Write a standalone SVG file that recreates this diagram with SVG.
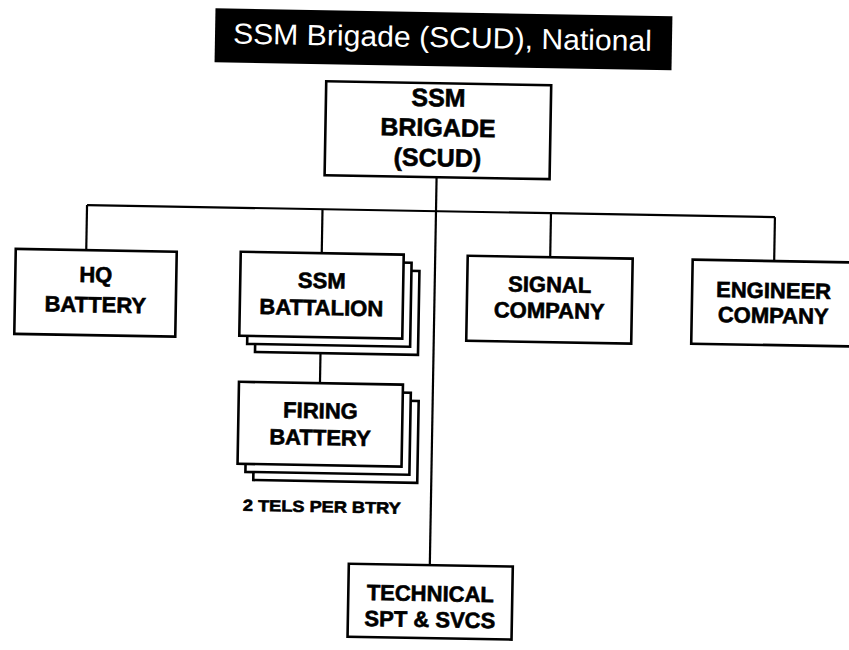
<svg xmlns="http://www.w3.org/2000/svg" width="849" height="650" viewBox="0 0 849 650">
<style>
.box{fill:#fff;stroke:#000;stroke-width:2.6}
.ln{fill:none;stroke:#000;stroke-width:2.2}
.t{font-family:"Liberation Sans",Arial,sans-serif;font-weight:bold;font-size:22px;fill:#000;stroke:#000;stroke-width:0.6;text-anchor:middle}
.tb{font-size:25px}
.title{font-family:"Liberation Sans",Arial,sans-serif;font-size:29px;fill:#fff;text-anchor:middle}
</style>
<rect x="0" y="0" width="849" height="650" fill="#fff"/>
<g transform="rotate(1 424 325)">
  <g id="title">
    <rect x="210" y="12" width="457" height="54" fill="#000"/>
    <text class="title" x="437.5" y="47" textLength="419" lengthAdjust="spacingAndGlyphs">SSM Brigade (SCUD), National</text>
  </g>
  <g id="connectors">
    <line class="ln" x1="434" y1="177" x2="434" y2="565"/>
    <line class="ln" x1="85" y1="211" x2="773" y2="211"/>
    <line class="ln" x1="85" y1="211" x2="85" y2="256"/>
    <line class="ln" x1="320.5" y1="211" x2="320.5" y2="255"/>
    <line class="ln" x1="549" y1="211" x2="549" y2="255"/>
    <line class="ln" x1="773" y1="211" x2="773" y2="255"/>
    <line class="ln" x1="321" y1="355" x2="321" y2="385"/>
  </g>
  <g id="brigade">
    <rect class="box" x="322" y="83" width="225" height="94"/>
    <text class="t tb" x="434.5" y="106">SSM</text>
    <text class="t tb" x="434.5" y="136">BRIGADE</text>
    <text class="t tb" x="434.5" y="166">(SCUD)</text>
  </g>
  <g id="hq-battery">
    <rect class="box" x="14.5" y="256" width="161" height="85"/>
    <text class="t" x="95" y="288">HQ</text>
    <text class="t" x="95" y="318">BATTERY</text>
  </g>
  <g id="ssm-battalion">
    <rect class="box" x="255.5" y="271" width="163" height="84"/>
    <rect class="box" x="247.5" y="263" width="163" height="84"/>
    <rect class="box" x="239.5" y="255" width="163" height="84"/>
    <text class="t" x="321" y="290">SSM</text>
    <text class="t" x="321" y="317">BATTALION</text>
  </g>
  <g id="firing-battery">
    <rect class="box" x="256" y="401" width="164" height="82"/>
    <rect class="box" x="248" y="393" width="164" height="82"/>
    <rect class="box" x="240" y="385" width="164" height="82"/>
    <text class="t" x="322" y="420">FIRING</text>
    <text class="t" x="322" y="447">BATTERY</text>
    <text class="t" x="325" y="514" style="font-size:16px" textLength="158" lengthAdjust="spacingAndGlyphs">2 TELS PER BTRY</text>
  </g>
  <g id="signal-company">
    <rect class="box" x="466.5" y="255" width="165" height="85"/>
    <text class="t" x="549" y="290">SIGNAL</text>
    <text class="t" x="549" y="316">COMPANY</text>
  </g>
  <g id="engineer-company">
    <rect class="box" x="691.5" y="255" width="165" height="84"/>
    <text class="t" x="773" y="292">ENGINEER</text>
    <text class="t" x="773" y="317">COMPANY</text>
  </g>
  <g id="technical">
    <rect class="box" x="353" y="565" width="164" height="73"/>
    <text class="t" x="435" y="601">TECHNICAL</text>
    <text class="t" x="435" y="627">SPT &amp; SVCS</text>
  </g>
</g>
</svg>
